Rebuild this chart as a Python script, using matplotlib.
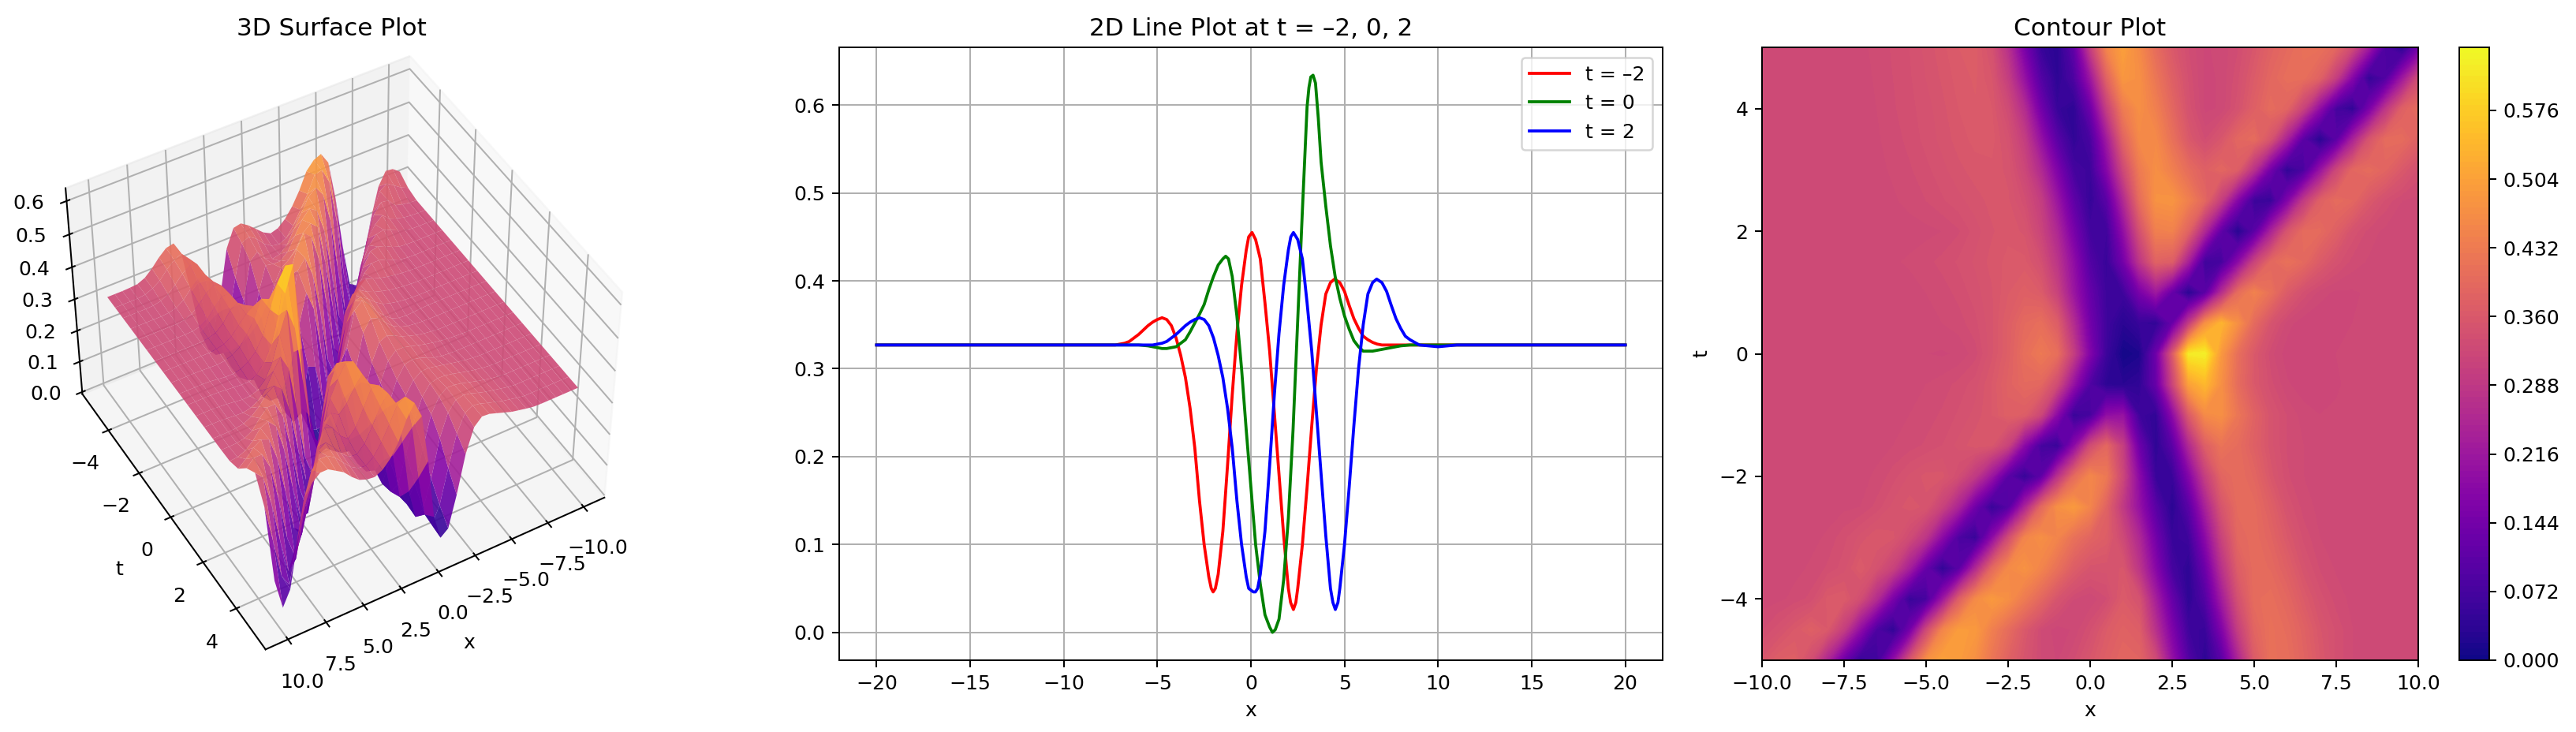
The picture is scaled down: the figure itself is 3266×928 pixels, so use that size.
import numpy as np
import matplotlib
matplotlib.use("Agg")
import matplotlib.pyplot as plt

W, H = 3266, 928
DPI = 181

# sampled off the line panel (x, value) for the three time slices
x_red = [-20, -15, -10, -8, -7.5, -7.25, -7, -6.75, -6.5, -6.25, -6, -5.75, -5.5, -5.25, -5, -4.75, -4.5, -4.25, -4,
         -3.75, -3.5, -3.25, -3, -2.75, -2.5, -2.25, -2.12, -2.02, -1.9, -1.75, -1.5, -1.25, -1, -0.75, -0.5, -0.25,
         -0.12, 0.06, 0.25, 0.5, 0.75, 1, 1.25, 1.5, 1.75, 2, 2.12, 2.27, 2.4, 2.5, 2.75, 3, 3.25, 3.5, 3.75, 4,
         4.25, 4.47, 4.75, 5, 5.25, 5.5, 5.75, 6, 6.25, 6.5, 6.75, 7, 8, 10, 15, 20]
y_red = [.327, .327, .327, .327, .327, .327, .328, .329, .331, .335, .339, .344, .349, .353, .356, .358, .356, .349,
         .335, .315, .29, .255, .21, .15, .10, .063, .05, .046, .05, .066, .115, .19, .27, .34, .395, .435,
         .45, .455, .447, .425, .375, .32, .25, .18, .11, .05, .034, .026, .034, .05, .10, .165, .235, .30, .35, .385,
         .398, .402, .398, .388, .372, .357, .346, .337, .333, .33, .328, .327, .327, .327, .327, .327]

x_green = [-20, -15, -10, -7, -6.5, -6, -5.5, -5, -4.75, -4.5, -4.25, -4, -3.75, -3.5, -3.25, -3, -2.75, -2.5, -2.25,
           -2, -1.75, -1.5, -1.35, -1.2, -1, -0.75, -0.5, -0.25, 0, 0.25, 0.5, 0.75, 1, 1.15, 1.3, 1.5, 1.75, 2, 2.25,
           2.5, 2.75, 3, 3.1, 3.2, 3.32, 3.45, 3.6, 3.75, 4, 4.25, 4.5, 4.75, 5, 5.25, 5.5, 5.75, 6, 6.5, 7, 7.5, 8,
           8.5, 10, 15, 20]
y_green = [.327, .327, .327, .327, .327, .327, .326, .324, .323, .323, .324, .325, .329, .333, .342, .352, .362,
           .373, .39, .405, .418, .425, .428, .425, .405, .36, .30, .23, .165, .10, .055, .02, .006, 0, .003, .015,
           .06, .13, .23, .355, .48, .598, .62, .632, .634, .625, .585, .535, .485, .44, .405, .38, .36, .345, .332,
           .325, .32, .32, .322, .324, .326, .327, .327, .327, .327]

x_blue = [-20, -15, -10, -6, -5.25, -5, -4.75, -4.5, -4.25, -4, -3.75, -3.5, -3.25, -3, -2.75, -2.5, -2.25, -2, -1.75,
          -1.5, -1.25, -1, -0.75, -0.5, -0.25, -0.12, 0, 0.13, 0.24, 0.36, 0.5, 0.75, 1, 1.25, 1.5, 1.75, 2, 2.13, 2.27,
          2.5, 2.75, 3, 3.25, 3.5, 3.75, 4, 4.25, 4.38, 4.51, 4.65, 4.75, 5, 5.25, 5.5, 5.75, 6, 6.25, 6.5, 6.72,
          7, 7.25, 7.5, 7.75, 8, 8.25, 8.5, 8.75, 9, 9.5, 10, 10.5, 11, 15, 20]
y_blue = [.327, .327, .327, .327, .327, .328, .329, .331, .335, .339, .344, .349, .353, .356, .358, .356, .349, .335,
          .315, .29, .255, .21, .15, .10, .063, .05, .048, .046, .046, .05, .066, .115, .19, .27, .34, .395, .435,
          .45, .455, .447, .425, .375, .32, .25, .18, .11, .05, .034, .026, .034, .05, .10, .165, .235, .30, .35,
          .385, .398, .402, .398, .388, .372, .357, .346, .337, .333, .33, .327, .326, .325, .326, .327, .327, .327]

# surface, one row per t, columns at x_grid
x_grid = [-10, -9.5, -9, -8.5, -8, -7.5, -7, -6.5, -6, -5.5, -5, -4.5, -4, -3.5, -3, -2.5, -2, -1.5, -1, -0.5, 0,
          0.5, 1, 1.5, 2, 2.5, 3, 3.5, 4, 4.5, 5, 5.5, 6, 6.5, 7, 7.5, 8, 8.5, 9, 9.5, 10]
t_grid = [-5, -4.5, -4, -3.5, -3, -2.5, -2, -1.5, -1, -0.5, 0, 0.5, 1, 1.5, 2, 2.5, 3, 3.5, 4, 4.5, 5]
z_rows = [
    [.355, .372, .375, .335, .245, .13, .045, .06, .19, .35, .47, .505, .495, .47, .42, .38, .35, .33, .323, .335, .355,
     .375, .39, .385, .33, .20, .09, .035, .10, .24, .365, .41, .405, .385, .36, .34, .33, .328, .327, .327, .327],
    [.335, .345, .36, .375, .36, .30, .19, .08, .04, .14, .32, .45, .495, .49, .44, .40, .36, .33, .32, .325, .34,
     .365, .38, .37, .27, .16, .06, .05, .16, .30, .385, .41, .40, .38, .355, .34, .33, .327, .327, .327, .327],
    [.327, .328, .332, .338, .362, .365, .335, .26, .15, .05, .07, .21, .37, .46, .49, .47, .43, .39, .35, .33, .325,
     .335, .365, .345, .23, .12, .035, .09, .22, .34, .40, .405, .39, .365, .345, .333, .328, .327, .327, .327, .327],
    [.327, .327, .328, .331, .337, .345, .365, .345, .31, .23, .12, .04, .10, .25, .39, .46, .475, .45, .41, .37, .35,
     .35, .355, .28, .175, .07, .035, .13, .27, .37, .40, .395, .375, .35, .335, .329, .327, .327, .327, .327, .327],
    [.327, .327, .327, .328, .331, .34, .35, .36, .355, .33, .28, .18, .08, .05, .18, .33, .45, .47, .45, .41, .385,
     .37, .325, .25, .14, .05, .06, .18, .31, .39, .40, .385, .36, .34, .33, .327, .327, .327, .327, .327, .327],
    [.327, .327, .327, .327, .327, .328, .33, .338, .35, .357, .352, .31, .24, .135, .05, .09, .24, .39, .47, .49, .45,
     .38, .29, .20, .10, .03, .10, .235, .35, .398, .398, .375, .347, .333, .328, .327, .327, .327, .327, .327, .327],
    [.327, .327, .327, .327, .327, .327, .328, .331, .339, .349, .356, .356, .335, .29, .21, .10, .047, .105, .27, .395,
     .455, .425, .32, .18, .05, .05, .165, .30, .385, .402, .388, .357, .337, .33, .327, .327, .327, .327, .327, .327, .327],
    [.327, .327, .327, .327, .327, .327, .327, .328, .33, .333, .337, .342, .35, .358, .355, .31, .18, .07, .05, .18,
     .33, .39, .30, .13, .035, .10, .25, .37, .415, .40, .375, .35, .335, .33, .327, .327, .327, .327, .327, .327, .327],
    [.327, .327, .327, .327, .327, .327, .327, .327, .328, .33, .333, .337, .343, .35, .36, .375, .37, .32, .18, .05,
     .07, .19, .20, .06, .04, .18, .36, .46, .47, .42, .38, .35, .335, .327, .324, .325, .326, .327, .327, .327, .327],
    [.327, .327, .327, .327, .327, .327, .327, .327, .327, .328, .33, .333, .338, .345, .36, .38, .395, .39, .33, .20,
     .085, .035, .03, .04, .12, .31, .50, .54, .47, .40, .36, .338, .325, .32, .32, .323, .326, .327, .327, .327, .327],
    [.327, .327, .327, .327, .327, .327, .327, .327, .327, .326, .324, .323, .325, .333, .352, .373, .405, .427, .405,
     .30, .165, .055, .006, .015, .13, .355, .62, .625, .485, .405, .36, .332, .32, .32, .322, .324, .326, .327, .327, .327, .327],
    [.327, .327, .327, .327, .327, .327, .327, .327, .327, .327, .328, .33, .333, .34, .352, .372, .395, .405, .37, .26,
     .14, .06, .03, .05, .04, .12, .29, .47, .535, .47, .395, .35, .327, .319, .318, .321, .324, .326, .327, .327, .327],
    [.327, .327, .327, .327, .327, .327, .327, .327, .327, .327, .33, .333, .338, .345, .353, .365, .375, .365, .31, .21,
     .12, .055, .06, .15, .215, .12, .03, .10, .26, .40, .445, .41, .365, .34, .327, .322, .323, .325, .327, .327, .327],
    [.327, .327, .327, .327, .327, .327, .327, .328, .329, .331, .334, .338, .343, .349, .356, .362, .362, .34, .28, .19,
     .09, .05, .14, .28, .38, .37, .23, .06, .07, .18, .31, .39, .41, .395, .365, .345, .333, .329, .327, .327, .327],
    [.327, .327, .327, .327, .327, .327, .327, .327, .327, .327, .328, .330, .335, .345, .353, .358, .352, .315, .25, .15,
     .065, .06, .19, .34, .44, .445, .38, .25, .11, .026, .10, .235, .35, .398, .398, .375, .346, .333, .328, .327, .327],
    [.327, .327, .327, .327, .327, .327, .327, .327, .329, .332, .336, .341, .346, .351, .356, .355, .338, .30, .21, .11,
     .045, .10, .25, .40, .475, .48, .44, .39, .30, .17, .055, .05, .16, .29, .375, .40, .39, .36, .34, .33, .328],
    [.327, .327, .327, .327, .327, .327, .327, .328, .331, .335, .34, .346, .352, .357, .358, .352, .32, .255, .16, .07,
     .055, .17, .32, .43, .47, .44, .40, .375, .39, .37, .27, .14, .04, .075, .20, .32, .39, .40, .385, .36, .34],
    [.327, .327, .327, .327, .327, .327, .327, .329, .333, .338, .344, .35, .357, .362, .363, .345, .30, .20, .10, .04,
     .075, .22, .38, .46, .46, .41, .36, .335, .355, .39, .40, .35, .235, .10, .03, .10, .235, .35, .40, .40, .378],
    [.327, .327, .327, .327, .327, .327, .327, .33, .335, .34, .345, .352, .36, .365, .36, .33, .26, .14, .05, .035,
     .13, .30, .43, .47, .44, .39, .345, .322, .325, .345, .375, .40, .385, .31, .19, .07, .04, .15, .28, .375, .40],
    [.327, .327, .327, .327, .327, .327, .327, .331, .336, .341, .348, .355, .363, .367, .354, .30, .20, .09, .035, .08,
     .21, .38, .485, .47, .42, .375, .34, .322, .325, .34, .365, .39, .405, .405, .38, .30, .17, .045, .085, .21, .33],
    [.327, .327, .327, .327, .327, .327, .328, .332, .337, .342, .35, .358, .366, .368, .345, .27, .15, .05, .03, .11,
     .30, .45, .50, .46, .40, .36, .335, .323, .326, .335, .355, .38, .395, .41, .41, .39, .33, .22, .08, .03, .13],
]

line_labels = ["t = –2", "t = 0", "t = 2"]
cbar_ticks = [0, .072, .144, .216, .288, .36, .432, .504, .576]

x_mesh, t_mesh = np.meshgrid(x_grid, t_grid)
z_mesh = np.array(z_rows)
levels = np.arange(0, .645, .006)


def px_box(left, top, right, bottom):
    return [left / W, 1 - bottom / H, (right - left) / W, (bottom - top) / H]


fig = plt.figure(figsize=(W / DPI, H / DPI), dpi=DPI, facecolor="white")

# 3D surface
ax3 = fig.add_axes(px_box(5, 60, 835, 837), projection="3d")
ax3.plot_surface(x_mesh, t_mesh, z_mesh, cmap="plasma", vmin=0, vmax=.642, linewidth=0, antialiased=True, alpha=.9)
ax3.view_init(elev=46, azim=60)
ax3.set_title("3D Surface Plot", fontsize=12.4)
ax3.set_xlabel("x")
ax3.set_ylabel("t")

# line slices
ax = fig.add_axes(px_box(1064, 60, 2108, 837))
ax.plot(x_red, y_red, color="red", label=line_labels[0])
ax.plot(x_green, y_green, color="green", label=line_labels[1])
ax.plot(x_blue, y_blue, color="blue", label=line_labels[2])
ax.set_title("2D Line Plot at t = –2, 0, 2", fontsize=12.4)
ax.set_xlabel("x")
ax.grid(True)
ax.legend(loc="upper right")

# filled contour and colorbar
axc = fig.add_axes(px_box(2234, 60, 3066, 837))
cf = axc.contourf(x_mesh, t_mesh, z_mesh, levels=levels, cmap="plasma")
axc.set_title("Contour Plot", fontsize=12.4)
axc.set_xlabel("x")
axc.set_ylabel("t")
cax = fig.add_axes(px_box(3118, 60, 3156, 837))
cbar = fig.colorbar(cf, cax=cax, ticks=cbar_ticks, format="%.3f")

fig.savefig("out.png", dpi=DPI, facecolor="white")
